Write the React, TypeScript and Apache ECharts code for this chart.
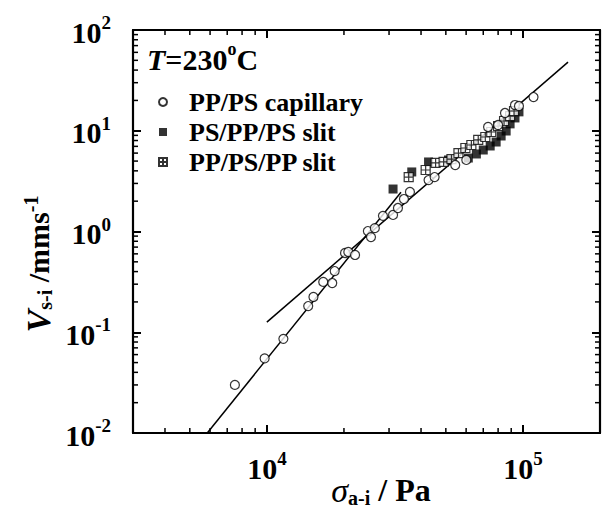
import React, { useEffect, useRef } from 'react';
import * as echarts from 'echarts';

// ---- data ----
const capillaryStress = [7500, 9800, 11600, 14500, 15200, 16600, 18000, 18400, 20200, 20800, 22100, 24800, 25500, 26400, 28400, 31100, 32500, 34300, 36200, 42800, 45200, 54400, 60100, 73100, 80000, 85100, 93100, 96500, 110000];
const capillaryVelocity = [0.030, 0.055, 0.086, 0.182, 0.224, 0.316, 0.308, 0.405, 0.612, 0.626, 0.585, 1.01, 0.88, 1.08, 1.43, 1.46, 1.71, 2.10, 2.47, 3.24, 3.47, 4.57, 5.13, 10.9, 11.4, 15.0, 18.0, 17.6, 21.6];

const psppStress = [31100, 36800, 42800, 51200, 61200, 65800, 70000, 74500, 78600, 82200, 86000, 89100, 93100, 96500];
const psppVelocity = [2.64, 3.90, 4.90, 5.13, 5.36, 5.88, 6.44, 7.06, 7.73, 8.87, 9.94, 11.7, 13.4, 15.4];

const pppsStress = [35800, 41700, 45600, 49000, 52600, 56000, 59600, 62900, 66900, 71300, 75200, 80000, 84400, 89100, 92300];
const pppsVelocity = [3.47, 4.08, 4.79, 4.90, 5.24, 6.01, 6.74, 7.22, 8.10, 8.67, 9.72, 11.1, 12.5, 14.0, 15.7];

const fitLowStress = [5850, 33400];
const fitLowVelocity = [0.01, 2.45];
const fitHighStress = [10000, 150000];
const fitHighVelocity = [0.126, 48];

const xMinorTicks = [4000, 5000, 6000, 7000, 8000, 9000, 20000, 30000, 40000, 50000, 60000, 70000, 80000, 90000];
const yMinorTicks = [0.02, 0.03, 0.04, 0.05, 0.06, 0.07, 0.08, 0.09, 0.2, 0.3, 0.4, 0.5, 0.6, 0.7, 0.8, 0.9, 2, 3, 4, 5, 6, 7, 8, 9, 20, 30, 40, 50, 60, 70, 80, 90];

const seriesNames = ['PP/PS capillary', 'PS/PP/PS slit', 'PP/PS/PP slit'];

const FONT = '"Liberation Serif", "Times New Roman", serif';

function zip(a: number[], b: number[]) {
  return a.map((v, i) => [v, b[i]]);
}

function tickFormatter(v: number) {
  const l = Math.log10(v);
  const e = Math.round(l);
  if (Math.abs(l - e) > 1e-6) return '';
  return `{b|10}{s|${e}}`;
}

const labelRich = {
  b: { fontFamily: FONT, fontWeight: 'bold', fontSize: 30, lineHeight: 34, verticalAlign: 'bottom', color: '#000' },
  s: { fontFamily: FONT, fontWeight: 'bold', fontSize: 19, lineHeight: 14, verticalAlign: 'top', color: '#000' },
};

export default function App() {
  const ref = useRef<HTMLDivElement>(null);
  useEffect(() => {
    if (!ref.current) return;
    const chart = echarts.init(ref.current, undefined, { renderer: 'svg' });
    const axisLine = { show: true, lineStyle: { color: '#000', width: 2.2 } };
    const majorTick = { show: true, inside: true, length: 8, lineStyle: { color: '#000', width: 2 } };
    const xCommon = { type: 'log', logBase: 10, min: 3000, max: 200000, splitLine: { show: false }, axisLine };
    const yCommon = { type: 'log', logBase: 10, min: 0.01, max: 100, splitLine: { show: false }, axisLine };
    const option: any = {
      animation: false,
      backgroundColor: '#fff',
      grid: { left: 133, right: 4, top: 30, bottom: 81, containLabel: false },
      xAxis: [
        { ...xCommon, position: 'bottom', axisTick: majorTick, axisLabel: { formatter: tickFormatter, rich: labelRich, margin: 16 } },
        { ...xCommon, position: 'top', axisTick: majorTick, axisLabel: { show: false } },
      ],
      yAxis: [
        { ...yCommon, position: 'left', axisTick: majorTick, axisLabel: { formatter: tickFormatter, rich: labelRich, margin: 22 } },
        { ...yCommon, position: 'right', axisTick: majorTick, axisLabel: { show: false } },
      ],
      legend: {
        data: seriesNames,
        orient: 'vertical',
        left: 153,
        top: 84,
        itemWidth: 8,
        itemHeight: 8,
        itemGap: 4,
        textStyle: { fontFamily: FONT, fontWeight: 'bold', fontSize: 26, color: '#000', padding: [0, 0, 0, 17] },
      },
      graphic: [
        {
          type: 'text', left: 147, top: 40,
          style: {
            text: '{i|T}{n|=230}{s|o}{n|C}',
            rich: {
              i: { fontFamily: FONT, fontWeight: 'bold', fontStyle: 'italic', fontSize: 30, lineHeight: 34, verticalAlign: 'bottom', fill: '#000' },
              n: { fontFamily: FONT, fontWeight: 'bold', fontSize: 30, lineHeight: 34, verticalAlign: 'bottom', fill: '#000' },
              s: { fontFamily: FONT, fontWeight: 'bold', fontSize: 18, lineHeight: 14, verticalAlign: 'top', fill: '#000' },
            },
          },
        },
        {
          type: 'text', x: 38, y: 264, rotation: Math.PI / 2,
          style: {
            text: '{v|V}{sub|s-i}{n| /mms}{sup|-1}',
            align: 'center', verticalAlign: 'middle',
            rich: {
              v: { fontFamily: FONT, fontWeight: 'bold', fontStyle: 'italic', fontSize: 34, lineHeight: 34, verticalAlign: 'middle', fill: '#000' },
              sub: { fontFamily: FONT, fontWeight: 'bold', fontSize: 20, lineHeight: 14, verticalAlign: 'bottom', fill: '#000' },
              n: { fontFamily: FONT, fontWeight: 'bold', fontSize: 30, lineHeight: 34, verticalAlign: 'middle', fill: '#000' },
              sup: { fontFamily: FONT, fontWeight: 'bold', fontSize: 20, lineHeight: 14, verticalAlign: 'top', fill: '#000' },
            },
          },
        },
        {
          type: 'text', x: 381, y: 490,
          style: {
            text: '{g|σ}{sub|a-i}{n| / Pa}',
            align: 'center', verticalAlign: 'middle',
            rich: {
              g: { fontFamily: FONT, fontStyle: 'italic', fontSize: 34, lineHeight: 36, verticalAlign: 'middle', fill: '#000' },
              sub: { fontFamily: FONT, fontWeight: 'bold', fontSize: 20, lineHeight: 14, verticalAlign: 'bottom', fill: '#000' },
              n: { fontFamily: FONT, fontWeight: 'bold', fontSize: 32, lineHeight: 36, verticalAlign: 'middle', fill: '#000' },
            },
          },
        },
      ],
      series: [
        {
          name: 'fitLow', type: 'line', data: zip(fitLowStress, fitLowVelocity), symbol: 'none',
          lineStyle: { color: '#000', width: 1.5 }, z: 2, silent: true,
        },
        {
          name: 'fitHigh', type: 'line', data: zip(fitHighStress, fitHighVelocity), symbol: 'none',
          lineStyle: { color: '#000', width: 1.5 }, z: 2, silent: true,
        },
        {
          name: seriesNames[1], type: 'scatter', data: zip(psppStress, psppVelocity), symbol: 'rect', symbolSize: 9,
          itemStyle: { color: '#000' }, z: 3,
        },
        {
          name: seriesNames[2], type: 'scatter', data: zip(pppsStress, pppsVelocity),
          symbol: 'path://M0,0H12V12H0Z M6,0V12 M0,6H12', symbolSize: 9,
          itemStyle: { color: '#fff', borderColor: '#000', borderWidth: 1.2 }, z: 4,
        },
        {
          name: seriesNames[0], type: 'scatter', data: zip(capillaryStress, capillaryVelocity), symbol: 'circle', symbolSize: 9,
          itemStyle: { color: '#fff', borderColor: '#000', borderWidth: 1.2 }, z: 5,
        },
        {
          name: 'xMinor', type: 'custom', silent: true, z: 6,
          data: xMinorTicks.map((v) => [v, 1]),
          renderItem: (params: any, api: any) => {
            const p = api.coord([api.value(0), 1]);
            const cs = params.coordSys;
            const st = { stroke: '#000', lineWidth: 1.5 };
            return {
              type: 'group', children: [
                { type: 'line', shape: { x1: p[0], y1: cs.y + cs.height, x2: p[0], y2: cs.y + cs.height - 5 }, style: st },
                { type: 'line', shape: { x1: p[0], y1: cs.y, x2: p[0], y2: cs.y + 5 }, style: st },
              ],
            };
          },
        },
        {
          name: 'yMinor', type: 'custom', silent: true, z: 6,
          data: yMinorTicks.map((v) => [10000, v]),
          renderItem: (params: any, api: any) => {
            const p = api.coord([10000, api.value(1)]);
            const cs = params.coordSys;
            const st = { stroke: '#000', lineWidth: 1.5 };
            return {
              type: 'group', children: [
                { type: 'line', shape: { x1: cs.x, y1: p[1], x2: cs.x + 5, y2: p[1] }, style: st },
                { type: 'line', shape: { x1: cs.x + cs.width, y1: p[1], x2: cs.x + cs.width - 5, y2: p[1] }, style: st },
              ],
            };
          },
        },
      ],
    };
    chart.setOption(option);
    return () => chart.dispose();
  }, []);
  return <div ref={ref} style={{ position: 'fixed', left: 0, top: 0, width: 604, height: 514, background: '#fff' }} />;
}
